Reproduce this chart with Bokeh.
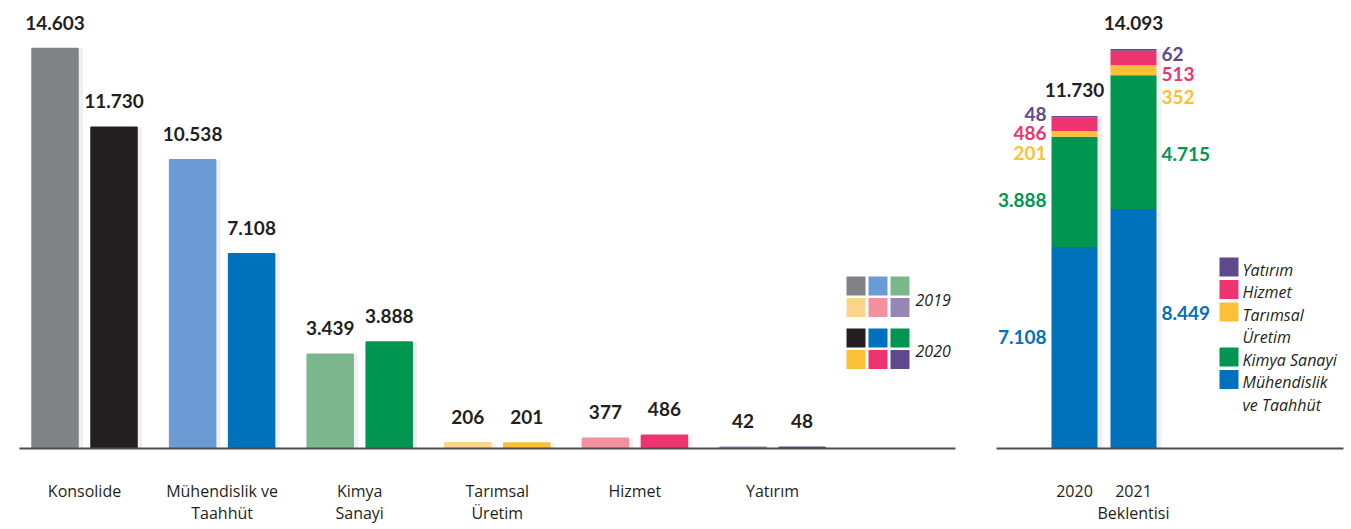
from bokeh.plotting import figure
from bokeh.layouts import row
from bokeh.models import Range1d, FixedTicker, Label, LabelSet, ColumnDataSource
from bokeh.core.properties import value
from bokeh.embed import file_html
from bokeh.resources import INLINE

# ---------------- data ----------------
categories = ["Konsolide", "Mühendislik ve\nTaahhüt", "Kimya\nSanayi",
              "Tarımsal\nÜretim", "Hizmet", "Yatırım"]
values_2019 = [14603, 10538, 3439, 206, 377, 42]
values_2020 = [11730, 7108, 3888, 201, 486, 48]
legend_years = ["2019", "2020"]

stack_years = ["2020", "2021\nBeklentisi"]
stack_segments = ["Mühendislik\nve Taahhüt", "Kimya Sanayi", "Tarımsal\nÜretim",
                  "Hizmet", "Yatırım"]
stack_2020 = [7108, 3888, 201, 486, 48]
stack_2021 = [8449, 4715, 352, 513, 62]
stack_totals = [11730, 14093]

# ---------------- styles ----------------
colors_2019 = ["#808285", "#6a9bd4", "#7bb78c", "#fcd58a", "#f4919e", "#9685b5"]
colors_2020 = ["#231f20", "#0071bc", "#00964f", "#fbbf38", "#ee3470", "#5e4a8b"]
seg_colors = colors_2020[1:]
DARK = "#231f20"
AXIS = "#4d4d4f"
NUM_FONT = "Lato"
TXT_FONT = "Open Sans"


def fmt(v):
    return f"{v:,}".replace(",", ".")


H = 529
BASE = 448            # page y of the baseline
BOTTOM = H - BASE

# left chart pixel geometry (page coordinates)
L_PX = 137.6          # px per category
L_C0 = 84.0           # page x of first category centre
L_LEFT, L_RIGHT = 19.0, 955.0
L_W = 990
L_SY = 0.02739        # px per unit
BAR_PX = 46.0
HALF_GAP = 29.5


def lx(px):
    return (px - L_C0) / L_PX


def ly(py):
    return (BASE - py) / L_SY


def style_axis(ax, labels):
    ax.ticker = FixedTicker(ticks=list(range(len(labels))))
    ax.major_label_overrides = {i: c for i, c in enumerate(labels)}
    ax.axis_line_color = AXIS
    ax.axis_line_width = 2
    ax.major_tick_line_color = None
    ax.minor_tick_line_color = None
    ax.major_label_text_font = TXT_FONT
    ax.major_label_text_font_size = "16px"
    ax.major_label_text_color = DARK
    ax.major_label_standoff = 25
    ax.major_label_text_line_height = 1.0


p1 = figure(width=L_W, height=H, output_backend="svg", toolbar_location=None,
            x_range=Range1d(lx(L_LEFT), lx(L_RIGHT)),
            y_range=Range1d(0, BASE / L_SY),
            min_border_left=int(L_LEFT), min_border_right=int(L_W - L_RIGHT),
            min_border_top=0, min_border_bottom=BOTTOM,
            y_axis_location=None)
p1.outline_line_color = None
p1.xgrid.visible = False
p1.ygrid.visible = False

idx = list(range(len(categories)))
x19 = [i - HALF_GAP / L_PX for i in idx]
x20 = [i + HALF_GAP / L_PX for i in idx]
bw = BAR_PX / L_PX

# soft shadows
for xs, vals in ((x19, values_2019), (x20, values_2020)):
    p1.vbar(x=[x + 3 / L_PX for x in xs], width=bw + 4 / L_PX, top=vals, bottom=0,
            fill_color="#000000", fill_alpha=0.06, line_color=None)

p1.vbar(x=x19, width=bw, top=values_2019, bottom=0, fill_color=colors_2019,
        line_color=colors_2019, line_width=1.5)
p1.vbar(x=x20, width=bw, top=values_2020, bottom=0, fill_color=colors_2020,
        line_color=colors_2020, line_width=1.5)

for xs, vals in ((x19, values_2019), (x20, values_2020)):
    p1.text(x=xs, y=vals, text=[fmt(v) for v in vals], text_align="center",
            text_baseline="bottom", y_offset=-19, text_font=value(NUM_FONT),
            text_font_style="bold", text_font_size="19px", text_color=DARK)

style_axis(p1.xaxis[0], categories)

# left legend: 3x2 squares per year
for k, year in enumerate(legend_years):
    cols = colors_2019 if k == 0 else colors_2020
    sx = [lx(855.5 + 22 * (j % 3)) for j in range(6)]
    sy = [ly(285.5 + 52 * k + 21.5 * (j // 3)) for j in range(6)]
    p1.rect(x=sx, y=sy, width=19, height=19, width_units="screen",
            height_units="screen", fill_color=cols, line_color=None)
    p1.add_layout(Label(x=lx(915), y=ly(299.5 + 51 * k), text=year,
                        text_font=TXT_FONT, text_font_style="italic",
                        text_font_size="16px", text_color=DARK,
                        text_baseline="middle", text_align="left"))

# ---------------- right chart ----------------
R_PX = 59.0
R_C0 = 1074.0
R_CANVAS = 990.0
R_LEFT, R_RIGHT = 996.0, 1343.0
R_W = 1351 - L_W
R_SY = 0.02835


def rx(px):
    return (px - R_C0) / R_PX


def ry(py):
    return (BASE - py) / R_SY


p2 = figure(width=R_W, height=H, output_backend="svg", toolbar_location=None,
            x_range=Range1d(rx(R_LEFT), rx(R_RIGHT)),
            y_range=Range1d(0, BASE / R_SY),
            min_border_left=int(R_LEFT - R_CANVAS),
            min_border_right=int(R_CANVAS + R_W - R_RIGHT),
            min_border_top=0, min_border_bottom=BOTTOM,
            y_axis_location=None)
p2.outline_line_color = None
p2.xgrid.visible = False
p2.ygrid.visible = False

rbw = BAR_PX / R_PX
# label nudges (screen px, positive = down) per bar, per segment
seg_nudge = [[-11, 8, 19, 9, -3], [-16, 12, 27, 16, 4]]
for b, stack in enumerate([stack_2020, stack_2021]):
    bottoms, tops = [], []
    acc = 0
    for v in stack:
        bottoms.append(acc)
        acc += v
        tops.append(acc)
    p2.vbar(x=[b + 3 / R_PX], width=rbw + 4 / R_PX, top=[tops[-1]], bottom=0,
            fill_color="#000000", fill_alpha=0.06, line_color=None)
    p2.vbar(x=[b] * len(stack), width=rbw, bottom=bottoms, top=tops,
            fill_color=seg_colors, line_color=None)
    mids = [(lo + hi) / 2 - n / R_SY for lo, hi, n in zip(bottoms, tops, seg_nudge[b])]
    src = ColumnDataSource(dict(x=[b] * len(stack), y=mids,
                                t=[fmt(v) for v in stack], c=seg_colors))
    p2.add_layout(LabelSet(x="x", y="y", text="t", source=src,
                           x_offset=-28 if b == 0 else 28,
                           text_align="right" if b == 0 else "left",
                           text_baseline="middle", text_font=value(NUM_FONT),
                           text_font_style="bold", text_font_size="19px",
                           text_color="c"))

p2.text(x=list(range(len(stack_totals))), y=stack_totals,
        text=[fmt(v) for v in stack_totals], text_align="center",
        text_baseline="bottom", y_offset=-19, text_font=value(NUM_FONT),
        text_font_style="bold", text_font_size="19px", text_color=DARK)

style_axis(p2.xaxis[0], stack_years)

# right legend (top to bottom: reversed segment order)
line_no = 0
sq_x, sq_y, sq_c = [], [], []
for s in reversed(range(len(stack_segments))):
    lines = stack_segments[s].split("\n")
    base = 269 + 22.5 * line_no
    sq_x.append(rx(1228.5))
    sq_y.append(ry(base - 2.5))
    sq_c.append(seg_colors[s])
    for t in lines:
        p2.add_layout(Label(x=rx(1242), y=ry(269 + 22.5 * line_no), text=t,
                            text_font=TXT_FONT, text_font_style="italic",
                            text_font_size="16px", text_color=DARK,
                            text_baseline="middle", text_align="left"))
        line_no += 1
p2.rect(x=sq_x, y=sq_y, width=19, height=19, width_units="screen",
        height_units="screen", fill_color=sq_c, line_color=None)

layout = row(p1, p2)
open("out.html", "w").write(file_html(layout, INLINE))
